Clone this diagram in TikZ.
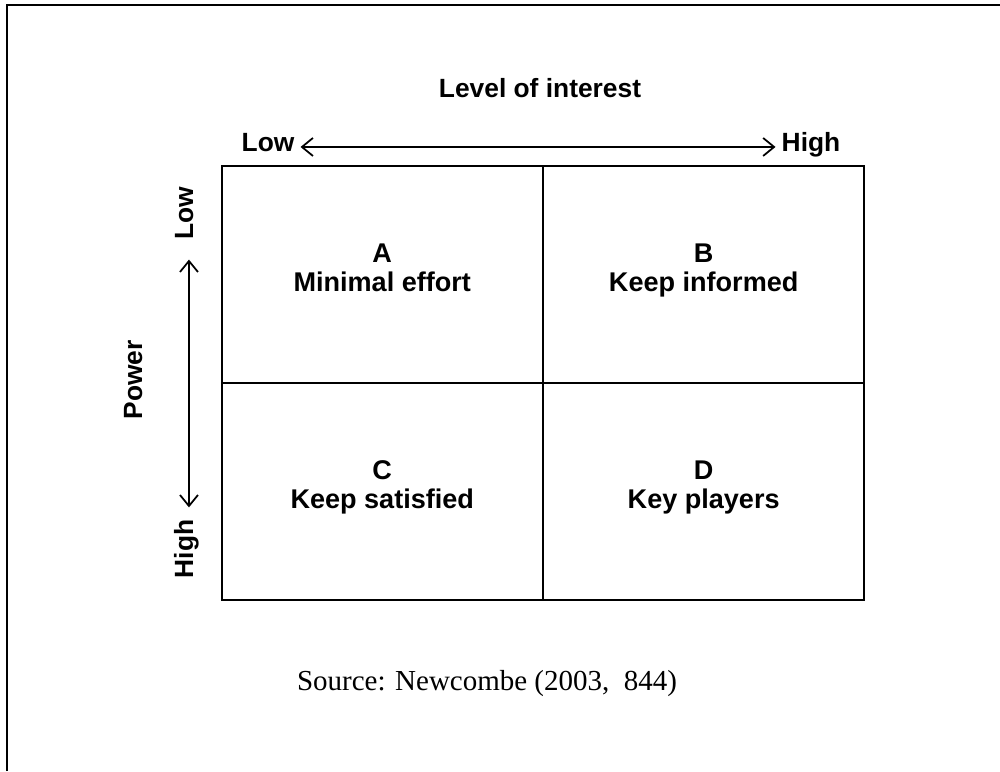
\documentclass[tikz,border=0pt]{standalone}
\usepackage{fontspec}
\setmainfont{Liberation Serif}
\setsansfont{Liberation Sans}
\usetikzlibrary{arrows.meta, positioning}

\begin{document}
\begin{tikzpicture}[x=0.02cm, y=-0.02cm, node distance=0pt,
    lbl/.style={anchor=base, font=\sffamily\bfseries\fontsize{15}{17}\selectfont},
    cell/.style={rectangle, draw, line width=1.1pt, outer sep=0pt, minimum width=6.43cm, minimum height=4.34cm, align=center,
        font=\sffamily\bfseries\fontsize{15.4}{16.5}\selectfont, execute at end node={\rule[-8pt]{0pt}{8pt}}},
    axis/.style={line width=1pt, {Straight Barb[length=2.2mm, width=3.6mm]}-{Straight Barb[length=2.2mm, width=3.6mm]}}]
    \useasboundingbox (0,0) rectangle (1000,771);
    \draw[line width=1.1pt] (7,771) -- (7,5) -- (1000,5);

    % the four quadrants
    \node [cell] (cellA) at (382.25,274.5) {A\\Minimal effort};
    \node [cell, right=of cellA] (cellB) {B\\Keep informed};
    \node [cell, below=of cellA] (cellC) {C\\Keep satisfied};
    \node [cell, right=of cellC] (cellD) {D\\Key players};

    % interest axis
    \node [lbl] (interest) at (540,97) {Level of interest};
    \node [lbl] (lowx) at (268,151) {Low};
    \node [lbl] (highx) at (811,151) {High};
    \draw[axis] (lowx.mid east) -- (highx.mid west);

    % power axis
    \node [lbl, rotate=90] (power) at (142,380) {Power};
    \node [lbl, rotate=90] (lowy) at (193,213) {Low};
    \node [lbl, rotate=90] (highy) at (193,549) {High};
    \draw[axis, shorten <=8pt, shorten >=3.5pt] (lowy.mid west) -- (highy.mid east);

    \node [font=\fontsize{16.5}{19}\selectfont] (source) at (487,684) {Source: Newcombe (2003,~~844)};
\end{tikzpicture}
\end{document}
